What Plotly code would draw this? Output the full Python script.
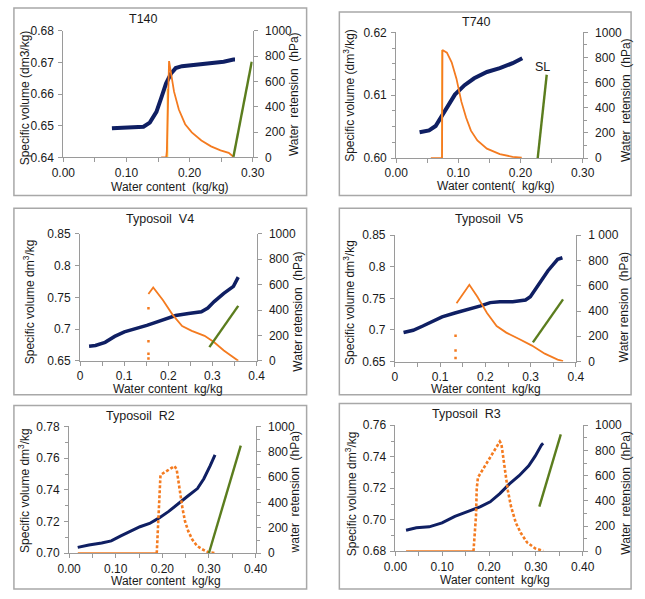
import plotly.graph_objects as go

W, H = 645, 599

# ---------------- data ----------------
# T140
t140_blue_x = [0.077, 0.100, 0.127, 0.137, 0.1475, 0.155, 0.1627, 0.1703, 0.178, 0.188, 0.2085, 0.234, 0.254, 0.2695, 0.272]
t140_blue_y = [0.6492, 0.6493, 0.6497, 0.651, 0.6544, 0.6587, 0.6633, 0.6664, 0.6682, 0.6688, 0.6693, 0.6697, 0.6702, 0.6709, 0.6709]
t140_or_x = [0.155, 0.163, 0.164, 0.166, 0.1675, 0.1754, 0.183, 0.193, 0.2035, 0.2187, 0.234, 0.249, 0.262, 0.2695]
t140_or_y = [0, 0, 50, 400, 760, 519, 378, 262, 198, 133, 87, 56, 36, 5]
t140_ye_x = [0.165, 0.165]
t140_ye_y = [0, 540]
t140_gr_x = [0.2695, 0.2985]
t140_gr_y = [5, 755]

# T740
t740_blue_x = [0.0377, 0.053, 0.0635, 0.0738, 0.0842, 0.0945, 0.110, 0.1255, 0.146, 0.1668, 0.1874, 0.2029]
t740_blue_y = [0.6041, 0.6044, 0.6051, 0.6067, 0.6085, 0.6101, 0.6116, 0.6127, 0.6137, 0.6143, 0.6151, 0.6159]
t740_or_x = [0.0558, 0.0738, 0.0745, 0.0816, 0.0893, 0.097, 0.1048, 0.1126, 0.1203, 0.1306, 0.146, 0.1668, 0.1874, 0.202]
t740_or_y = [0, 0, 860, 839, 762, 632, 451, 321, 218, 140, 75, 31, 10, 3]
t740_ye_x = [0.0738, 0.0738]
t740_ye_y = [0, 860]
t740_gr_x = [0.2277, 0.2422]
t740_gr_y = [0, 663]

# Typosoil V4
v4_blue_x = [0.0204, 0.0349, 0.0567, 0.0785, 0.1004, 0.1222, 0.1513, 0.1731, 0.1949, 0.2167, 0.2458, 0.2749, 0.2895, 0.304, 0.3258, 0.3476, 0.3585]
v4_blue_y = [0.6731, 0.6741, 0.6792, 0.6885, 0.6956, 0.6997, 0.7059, 0.711, 0.7162, 0.7213, 0.7244, 0.7274, 0.7331, 0.7433, 0.7562, 0.7674, 0.7818]
v4_dot_x = [0.155, 0.155, 0.155, 0.155]
v4_dot_y = [415, 154, 56, 18]
v4_or_x = [0.1549, 0.1658, 0.1876, 0.2095, 0.2313, 0.2531, 0.2822, 0.304, 0.3258, 0.3476, 0.3585]
v4_or_y = [526, 577, 479, 364, 274, 236, 197, 146, 82, 31, 0]
v4_gr_x = [0.2931, 0.3585]
v4_gr_y = [108, 433]

# Typosoil V5
v5_blue_x = [0.0191, 0.0404, 0.0617, 0.083, 0.1043, 0.1326, 0.161, 0.1894, 0.2106, 0.2319, 0.2603, 0.2887, 0.2993, 0.317, 0.3383, 0.3596, 0.3702]
v5_blue_y = [0.6959, 0.6995, 0.7062, 0.7139, 0.7206, 0.7268, 0.732, 0.7381, 0.7433, 0.7448, 0.7448, 0.7474, 0.7526, 0.7706, 0.7938, 0.8119, 0.8144]
v5_dot_x = [0.134, 0.134, 0.134]
v5_dot_y = [204, 88, 28]
v5_or_x = [0.1362, 0.1645, 0.1823, 0.2035, 0.2248, 0.2461, 0.2745, 0.3028, 0.3312, 0.3596, 0.3716]
v5_or_y = [461, 608, 513, 384, 281, 229, 178, 126, 62, 15, 3]
v5_gr_x = [0.305, 0.3716]
v5_gr_y = [152, 492]

# Typosoil R2
r2_blue_x = [0.0185, 0.0425, 0.0699, 0.0904, 0.111, 0.1315, 0.1521, 0.1726, 0.1932, 0.2137, 0.2342, 0.2548, 0.2753, 0.289, 0.3027, 0.3096, 0.313]
r2_blue_y = [0.7037, 0.7052, 0.7064, 0.7078, 0.7109, 0.714, 0.7167, 0.7188, 0.7223, 0.7264, 0.7315, 0.7361, 0.7408, 0.747, 0.7553, 0.7604, 0.762]
r2_or_x = [0.0187, 0.188, 0.189, 0.1905, 0.192, 0.1928, 0.194, 0.1948, 0.196, 0.1983, 0.2259, 0.2307, 0.235, 0.2384, 0.2432, 0.2487, 0.2556, 0.2639, 0.2742, 0.2846, 0.2984, 0.3156]
r2_or_y = [0, 0, 77, 187, 297, 385, 487, 572, 615, 623, 687, 662, 559, 456, 354, 251, 174, 110, 59, 33, 8, 0]
r2_gr_x = [0.2998, 0.3682]
r2_gr_y = [0, 849]

# Typosoil R3
r3_blue_x = [0.0226, 0.0446, 0.072, 0.0995, 0.1269, 0.1544, 0.1818, 0.2024, 0.223, 0.2436, 0.2642, 0.2847, 0.2985, 0.3122, 0.3156]
r3_blue_y = [0.6934, 0.6949, 0.6955, 0.698, 0.7021, 0.7052, 0.7083, 0.7114, 0.7166, 0.7228, 0.728, 0.7342, 0.7404, 0.7476, 0.7486]
r3_or_x = [0.0226, 0.1667, 0.168, 0.1702, 0.1722, 0.1736, 0.1763, 0.1784, 0.223, 0.2264, 0.230, 0.2353, 0.2401, 0.247, 0.2573, 0.2676, 0.2813, 0.2985, 0.3156]
r3_or_y = [0, 0, 57, 160, 289, 496, 587, 599, 871, 850, 767, 612, 483, 354, 225, 147, 70, 23, 3]
r3_gr_x = [0.3074, 0.3533]
r3_gr_y = [354, 928]

titles = ["T140", "T740", "Typosoil  V4", "Typosoil  V5", "Typosoil  R2", "Typosoil  R3"]
x_titles = ["Water content  (kg/kg)", "Water content(  kg/kg)", "Water content  kg/kg",
            "Water content  kg/kg", "Water content  kg/kg", "Water content  kg/kg"]
yl_titles = ["Specific volume (dm3/kg)", "Specific volume (dm<sup>3</sup>/kg)",
             "Specific volume dm<sup>3</sup>/kg", "Specific volume dm<sup>3</sup>/kg",
             "Specific volume dm<sup>3</sup>/kg", "Specific volume dm<sup>3</sup>/kg"]
yr_titles = ["Water  retension  (hPa)", "Water  retension  (hPa)", "Water retension  (hPa)",
             "Water rension  (hPa)", "water  retension  (hPa)", "Water  retension  (hPa)"]
v5_right_ticks = [0, 200, 400, 600, 800, 1000]
v5_right_labels = ["0", "200", "400", "600", "800", "1 000"]

# ---------------- style / layout ----------------
BLUE = "#0f1f63"
ORANGE = "#f47b20"
GREEN = "#5b7d1e"
YELLOW = "#ffc845"
AX = "#9a9a9a"
FONT = "Liberation Sans, Arial, sans-serif"

def px(x):
    return x / W

def py(y):
    return 1 - y / H

# plot areas in pixels: (left, right, top, bottom)
areas = [(53.3, 250, 24.3, 154), (399, 592.7, 26, 154.7),
         (70.7, 254, 232.3, 362.3), (397.7, 585.7, 233.7, 363),
         (59.3, 253, 429.5, 559.3), (398.3, 592.7, 428.3, 557.3)]
boxes = [(2, 306, 1, 193), (340, 643, 5, 193), (2, 306, 206, 397),
         (340, 643, 206, 397), (2, 306, 408, 596), (340, 643, 406, 596)]

fig = go.Figure()

def add_panel(i, blue, orange, green=None, yellow=None, dots=None, orange_dotted=False, bw=4):
    xa = "x" if i == 1 else f"x{i}"
    yl = "y" if i == 1 else f"y{2*i-1}"
    yr = f"y{2*i}"
    fig.add_trace(go.Scatter(x=blue[0], y=blue[1], mode="lines", xaxis=xa, yaxis=yl,
                             line=dict(color=BLUE, width=bw), showlegend=False))
    if yellow is not None:
        fig.add_trace(go.Scatter(x=yellow[0], y=yellow[1], mode="lines", xaxis=xa, yaxis=yr,
                                 line=dict(color=YELLOW, width=1.6), showlegend=False))
    if orange_dotted:
        # flat part at zero looks continuous, the rest is drawn as dense small dashes
        fig.add_trace(go.Scatter(x=orange[0][:2], y=orange[1][:2], mode="lines", xaxis=xa, yaxis=yr,
                                 line=dict(color=ORANGE, width=2.2), showlegend=False))
        fig.add_trace(go.Scatter(x=orange[0][1:], y=orange[1][1:], mode="lines", xaxis=xa, yaxis=yr,
                                 line=dict(color=ORANGE, width=2.6, dash="3px,2px"), showlegend=False))
    else:
        fig.add_trace(go.Scatter(x=orange[0], y=orange[1], mode="lines", xaxis=xa, yaxis=yr,
                                 line=dict(color=ORANGE, width=1.8), showlegend=False))
    if dots is not None:
        fig.add_trace(go.Scatter(x=dots[0], y=dots[1], mode="markers", xaxis=xa, yaxis=yr,
                                 marker=dict(color=ORANGE, size=2.5, symbol="square"), showlegend=False))
    if green is not None:
        fig.add_trace(go.Scatter(x=green[0], y=green[1], mode="lines", xaxis=xa, yaxis=yr,
                                 line=dict(color=GREEN, width=2.4), showlegend=False))

add_panel(1, (t140_blue_x, t140_blue_y), (t140_or_x, t140_or_y), (t140_gr_x, t140_gr_y), (t140_ye_x, t140_ye_y))
add_panel(2, (t740_blue_x, t740_blue_y), (t740_or_x, t740_or_y), (t740_gr_x, t740_gr_y), (t740_ye_x, t740_ye_y))
add_panel(3, (v4_blue_x, v4_blue_y), (v4_or_x, v4_or_y), (v4_gr_x, v4_gr_y), dots=(v4_dot_x, v4_dot_y), bw=3.5)
add_panel(4, (v5_blue_x, v5_blue_y), (v5_or_x, v5_or_y), (v5_gr_x, v5_gr_y), dots=(v5_dot_x, v5_dot_y), bw=3.5)
add_panel(5, (r2_blue_x, r2_blue_y), (r2_or_x, r2_or_y), (r2_gr_x, r2_gr_y), orange_dotted=True, bw=3)
add_panel(6, (r3_blue_x, r3_blue_y), (r3_or_x, r3_or_y), (r3_gr_x, r3_gr_y), orange_dotted=True, bw=3)

tickfont = dict(family=FONT, size=12, color="#1a1a1a")

# axis specs: x range, x dtick, x format, yl range, yl dtick, yl fmt, yl minor, yr minor
specs = [
    ([0, 0.30], 0.10, ".2f", [0.64, 0.68], 0.01, ".2f", None, None),
    ([0, 0.30], 0.10, ".2f", [0.60, 0.62], 0.01, ".2f", 0.0025, 100),
    ([0, 0.40], 0.10, "", [0.65, 0.85], 0.05, "", None, None),
    ([0, 0.40], 0.10, "", [0.65, 0.85], 0.05, "", None, None),
    ([0, 0.40], 0.10, ".2f", [0.70, 0.78], 0.02, ".2f", 0.01, 100),
    ([0, 0.40], 0.10, ".2f", [0.68, 0.76], 0.02, ".2f", 0.01, 100),
]

layout = dict(width=W, height=H, margin=dict(l=0, r=0, t=0, b=0),
              paper_bgcolor="white", plot_bgcolor="white", font=dict(family=FONT, size=12, color="#1a1a1a"))

annotations = []
shapes = []

for k, (xr, xd, xf, ylr, yld, ylf, ylm, yrm) in enumerate(specs):
    i = k + 1
    l, r, t, b = areas[k]
    xkey = "xaxis" if i == 1 else f"xaxis{i}"
    ylkey = "yaxis" if i == 1 else f"yaxis{2*i-1}"
    yrkey = f"yaxis{2*i}"
    ylname = "y" if i == 1 else f"y{2*i-1}"
    xname = "x" if i == 1 else f"x{i}"
    layout[xkey] = dict(domain=[px(l), px(r)], range=xr, anchor=ylname, tickmode="linear", tick0=0, dtick=xd,
                        tickformat=xf, showgrid=False, zeroline=False, showline=True, linecolor=AX, linewidth=1,
                        ticks="outside", ticklen=4, tickcolor=AX, tickfont=tickfont,
                        minor=dict(dtick=0.05, ticks="outside", ticklen=4, tickcolor=AX, showgrid=False))
    ld = dict(domain=[py(b), py(t)], range=ylr, anchor=xname, tickmode="linear", tick0=ylr[0], dtick=yld,
              tickformat=ylf, showgrid=False, zeroline=False, showline=True, linecolor=AX, linewidth=1,
              ticks="outside", ticklen=4, tickcolor=AX, tickfont=tickfont, ticklabelstandoff=2)
    if ylm:
        ld["minor"] = dict(dtick=ylm, ticks="outside", ticklen=3, tickcolor=AX, showgrid=False)
    layout[ylkey] = ld
    rd = dict(range=[0, 1000], overlaying=ylname, anchor=xname, side="right", showgrid=False, zeroline=False,
              showline=True, linecolor=AX, linewidth=1, ticks="outside", ticklen=4, tickcolor=AX,
              tickfont=tickfont, ticklabelstandoff=5)
    if i == 4:
        rd.update(tickmode="array", tickvals=v5_right_ticks, ticktext=v5_right_labels)
    else:
        rd.update(tickmode="linear", tick0=0, dtick=200)
    if yrm:
        rd["minor"] = dict(dtick=yrm, ticks="outside", ticklen=3, tickcolor=AX, showgrid=False)
    layout[yrkey] = rd

    bl, br, bt, bb = boxes[k]
    shapes.append(dict(type="rect", xref="paper", yref="paper", x0=px(bl), x1=px(br), y0=py(bb), y1=py(bt),
                       line=dict(color="#a8a8a8", width=1.5), layer="below"))

# text positions (pixels)
title_pos = [(137, 12), (482, 15), (154, 217), (495, 217), (133, 419), (472, 417)]
xt_pos = [(164, 184), (503, 183), (162, 391), (492, 391), (160, 588), (502, 587)]
ylt_pos = [(13, 93), (350, 90), (18, 302), (350, 302), (13, 495), (352, 498)]
yrt_pos = [(293, 89), (638, 95), (297, 312), (635, 307), (294, 497), (638, 497)]
TF = 12

for k in range(6):
    annotations.append(dict(text=titles[k], x=px(title_pos[k][0]), y=py(title_pos[k][1]), xref="paper", yref="paper",
                            showarrow=False, font=dict(family=FONT, size=12.5, color="#1a1a1a"),
                            xanchor="center", yanchor="middle"))
    annotations.append(dict(text=x_titles[k], x=px(xt_pos[k][0]), y=py(xt_pos[k][1]), xref="paper", yref="paper",
                            showarrow=False, font=dict(family=FONT, size=TF, color="#1a1a1a"),
                            xanchor="center", yanchor="middle"))
    annotations.append(dict(text=yl_titles[k], x=px(ylt_pos[k][0]), y=py(ylt_pos[k][1]), xref="paper", yref="paper",
                            showarrow=False, textangle=-90, font=dict(family=FONT, size=TF, color="#1a1a1a"),
                            xanchor="center", yanchor="middle"))
    annotations.append(dict(text=yr_titles[k], x=px(yrt_pos[k][0]), y=py(yrt_pos[k][1]), xref="paper", yref="paper",
                            showarrow=False, textangle=-90, font=dict(family=FONT, size=TF, color="#1a1a1a"),
                            xanchor="center", yanchor="middle"))

# SL label in T740
annotations.append(dict(text="SL", x=0.236, y=725, xref="x2", yref="y4", showarrow=False,
                        font=dict(family=FONT, size=12.5, color="#1a1a1a"), xanchor="center", yanchor="middle"))

layout["annotations"] = annotations
layout["shapes"] = shapes
fig.update_layout(**layout)
fig.write_html("out.html", config={"displayModeBar": False},
               post_script="document.body.style.margin='0';document.body.style.overflow='hidden';")
